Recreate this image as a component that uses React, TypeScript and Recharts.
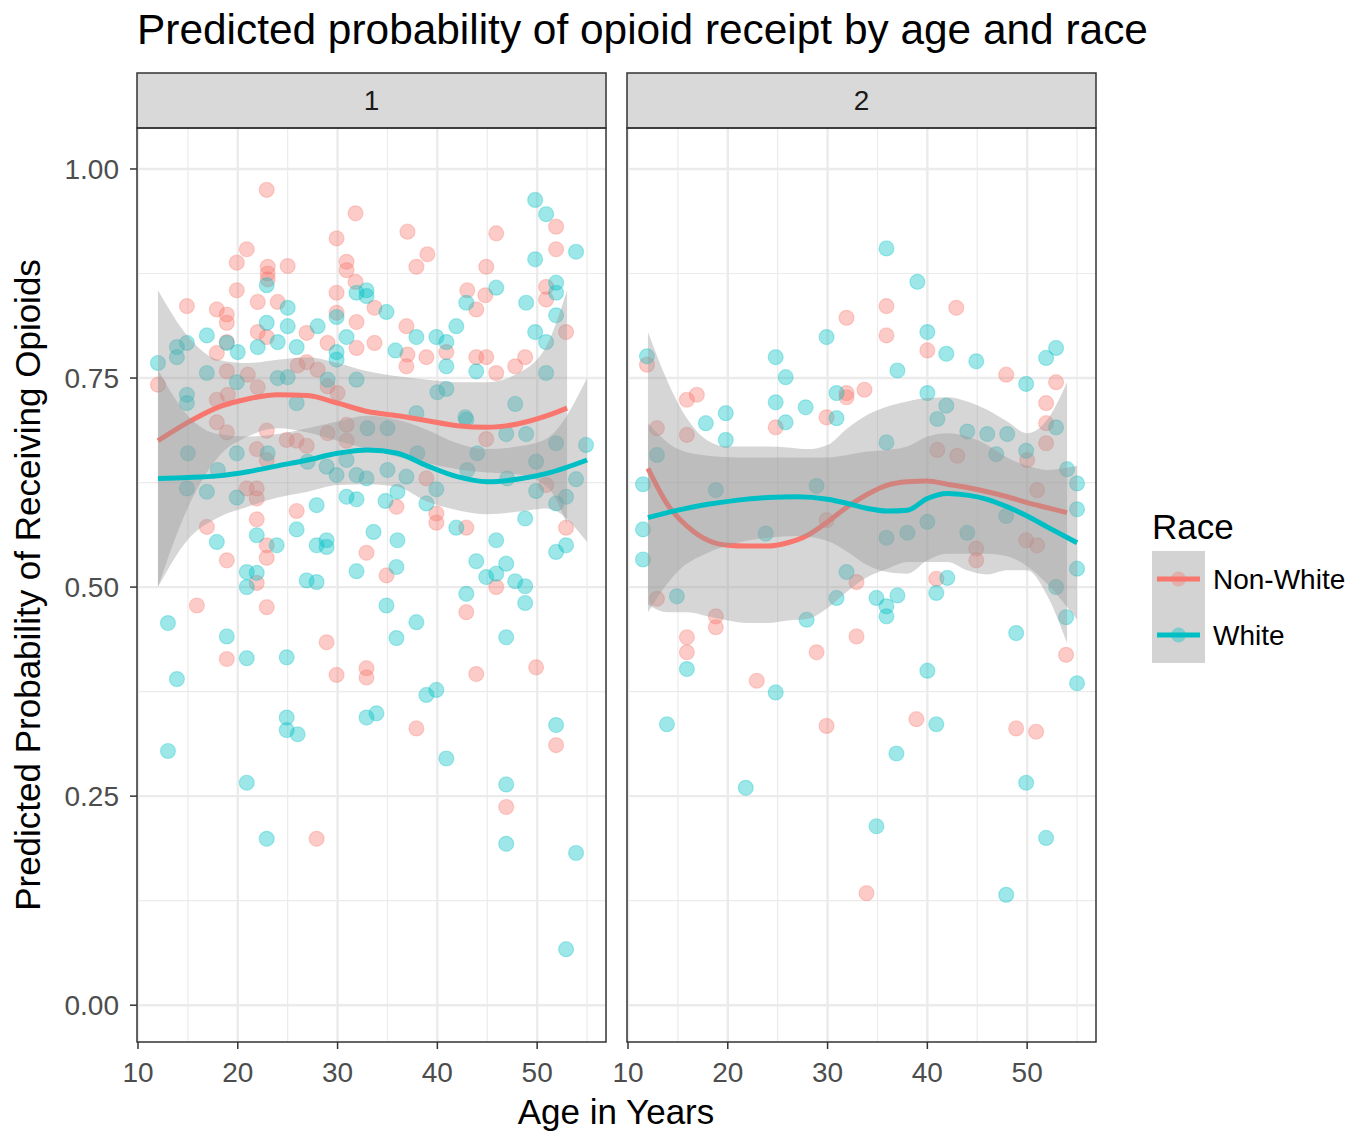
import React from "react";
import {
  ComposedChart,
  Scatter,
  Line,
  Area,
  XAxis,
  YAxis,
  CartesianGrid,
} from "recharts";

const FONT = '"Liberation Sans", Arial, Helvetica, sans-serif';
const RED = "#F8766D";
const CYAN = "#00BFC4";

const TITLE = "Predicted probability of opioid receipt by age and race";
const X_TITLE = "Age in Years";
const Y_TITLE = "Predicted Probability of Receiving Opioids";
const LEGEND_TITLE = "Race";
const GROUPS = ["Non-White", "White"];
const PANELS = ["1", "2"];

const X_TICKS = [10, 20, 30, 40, 50];
const X_MINOR = [15, 25, 35, 45, 55];
const Y_TICKS = [0, 0.25, 0.5, 0.75, 1];
const Y_MINOR = [0.125, 0.375, 0.625, 0.875];

// panel 1 points [age, probability]
const p1NonWhite: [number, number][] = [
  [22.9, 0.975], [31.8, 0.947], [29.9, 0.917], [20.9, 0.904], [19.9, 0.888], [23, 0.883],
  [23, 0.875], [23, 0.868], [25, 0.884], [30.9, 0.889], [30.9, 0.879], [31.8, 0.865],
  [19.9, 0.855], [29.9, 0.852], [14.9, 0.836], [17.9, 0.832], [18.9, 0.826], [18.9, 0.816],
  [22, 0.841], [24, 0.841], [29.9, 0.828], [31.9, 0.817], [33.7, 0.834], [22, 0.805],
  [22.9, 0.799], [26.9, 0.804], [29, 0.792], [31.9, 0.786], [18.9, 0.793], [17.9, 0.78],
  [33.7, 0.792], [18.9, 0.758], [21, 0.754], [22, 0.739], [26.9, 0.769], [28, 0.76],
  [12, 0.742], [17.9, 0.724], [19, 0.73], [29, 0.74], [30, 0.732], [26, 0.765],
  [37, 0.925], [45.9, 0.923], [51.9, 0.931], [51.9, 0.904], [39, 0.898], [37.9, 0.883],
  [44.9, 0.883], [43, 0.855], [44.8, 0.849], [43.9, 0.832], [50.9, 0.859], [50.9, 0.844],
  [36.9, 0.812], [52.9, 0.805], [37, 0.778], [36.9, 0.764], [38.9, 0.775], [40.9, 0.781],
  [43.9, 0.775], [44.9, 0.775], [45.9, 0.756], [47.8, 0.764], [48.8, 0.775],
  [17.9, 0.697], [18.9, 0.685], [22.9, 0.687], [24.9, 0.676], [25.9, 0.675], [26.9, 0.669],
  [21.9, 0.665], [22.9, 0.652], [30.9, 0.694], [30.9, 0.675], [29, 0.684], [20.9, 0.618],
  [21.9, 0.618], [21.9, 0.606], [25.9, 0.591], [21.9, 0.581], [16.9, 0.572], [22.9, 0.55],
  [22.9, 0.535], [18.9, 0.532], [21.9, 0.505], [15.9, 0.478], [22.9, 0.476], [28.9, 0.434],
  [18.9, 0.414], [32.9, 0.541], [44.9, 0.677], [38.9, 0.63], [35.9, 0.596], [39.9, 0.588],
  [39.9, 0.577], [42.9, 0.571], [50.9, 0.622], [52.9, 0.571], [34.9, 0.514], [45.9, 0.5],
  [42.9, 0.47], [29.9, 0.395], [32.9, 0.403], [32.9, 0.392], [43.9, 0.396], [49.9, 0.404],
  [37.9, 0.331], [51.9, 0.311], [46.9, 0.237], [27.9, 0.199],
];

const p1White: [number, number][] = [
  [22.9, 0.861], [25, 0.834], [22.9, 0.816], [25, 0.812], [28, 0.812], [29.9, 0.823],
  [30.9, 0.799], [16.9, 0.801], [13.9, 0.787], [14.9, 0.792], [13.9, 0.775], [12, 0.768],
  [18.9, 0.792], [20, 0.781], [22, 0.787], [24, 0.793], [25.9, 0.787], [29.9, 0.781],
  [29.9, 0.772], [32.9, 0.855], [32.9, 0.848], [31.9, 0.852], [16.9, 0.756], [19.9, 0.745],
  [14.9, 0.73], [14.9, 0.72], [24, 0.75], [25, 0.751], [29, 0.748], [31.9, 0.748], [25.9, 0.72],
  [49.8, 0.963], [50.9, 0.946], [53.9, 0.901], [49.8, 0.892], [45.9, 0.858], [42.9, 0.84],
  [48.9, 0.84], [51.9, 0.864], [51.9, 0.852], [34.9, 0.829], [41.9, 0.812], [37.9, 0.799],
  [39.9, 0.799], [40.9, 0.793], [35.8, 0.783], [49.8, 0.805], [50.9, 0.793], [51.9, 0.825],
  [40.9, 0.764], [43.9, 0.758], [50.9, 0.756], [40, 0.733], [40.9, 0.737], [47.8, 0.719],
  [37.9, 0.708], [42.8, 0.703], [14.9, 0.618], [16.9, 0.614], [19.9, 0.607], [19.9, 0.66],
  [28.9, 0.644], [29.9, 0.634], [31.9, 0.634], [32.9, 0.63], [30.9, 0.652], [30.9, 0.608],
  [31.9, 0.605], [27.9, 0.598], [25.9, 0.569], [17.9, 0.554], [21.9, 0.562], [23.9, 0.55],
  [27.9, 0.55], [28.9, 0.556], [28.9, 0.548], [20.9, 0.518], [21.9, 0.517], [20.9, 0.5],
  [26.9, 0.508], [27.9, 0.506], [31.9, 0.519], [33.6, 0.566], [13, 0.457], [18.9, 0.441],
  [20.9, 0.415], [24.9, 0.416], [54.9, 0.67], [53.9, 0.629], [52.9, 0.608], [51.9, 0.6],
  [49.9, 0.615], [49.9, 0.65], [48.8, 0.582], [34.8, 0.603], [36, 0.614], [36.9, 0.632],
  [38.9, 0.6], [39.9, 0.617], [41.9, 0.571], [36, 0.556], [45.9, 0.556], [35.9, 0.524],
  [43.9, 0.531], [46.9, 0.528], [44.9, 0.512], [45.9, 0.516], [47.8, 0.507], [48.8, 0.501],
  [51.9, 0.542], [52.9, 0.55], [42.9, 0.492], [48.8, 0.481], [34.9, 0.478], [37.9, 0.458],
  [35.9, 0.439], [46.9, 0.44], [35, 0.69], [42.9, 0.7], [48.9, 0.683], [46.9, 0.683],
  [51.9, 0.672], [15, 0.66], [18, 0.64], [23, 0.66], [27, 0.65], [35, 0.64], [38, 0.66],
  [43, 0.64], [47, 0.63], [33, 0.69], [44, 0.66], [13.9, 0.39], [38.9, 0.371], [39.9, 0.377],
  [24.9, 0.344], [24.9, 0.329], [26, 0.324], [32.9, 0.344], [33.9, 0.349], [13, 0.304],
  [40.9, 0.295], [51.9, 0.335], [20.9, 0.266], [46.9, 0.264], [22.9, 0.199], [46.9, 0.193],
  [53.9, 0.182], [52.9, 0.067],
];

// panel 2 points
const p2NonWhite: [number, number][] = [
  [31.9, 0.822], [11.9, 0.766], [15.9, 0.724], [16.9, 0.73], [31.9, 0.732], [31.9, 0.727],
  [33.7, 0.736], [24.8, 0.691], [29.9, 0.703], [15.9, 0.682], [12.9, 0.69], [35.9, 0.836],
  [42.9, 0.834], [35.9, 0.801], [40, 0.783], [47.9, 0.754], [52.9, 0.745], [51.9, 0.72],
  [51.9, 0.696], [51.9, 0.672], [41, 0.664], [43, 0.657], [50, 0.652], [12.9, 0.486],
  [18.8, 0.465], [18.8, 0.452], [15.9, 0.44], [15.9, 0.422], [22.9, 0.388], [28.9, 0.422],
  [32.9, 0.506], [32.9, 0.441], [29.9, 0.58], [40.9, 0.51], [44.9, 0.546], [44.9, 0.532],
  [49.9, 0.556], [51, 0.55], [51, 0.616], [53.9, 0.419], [29.9, 0.334], [38.9, 0.342],
  [48.9, 0.331], [50.9, 0.327], [33.9, 0.134],
];

const p2White: [number, number][] = [
  [11.9, 0.776], [29.9, 0.799], [24.8, 0.775], [25.8, 0.751], [24.8, 0.721], [27.8, 0.715],
  [30.9, 0.732], [30.9, 0.702], [25.8, 0.697], [17.8, 0.696], [19.8, 0.708], [19.8, 0.676],
  [12.9, 0.658], [35.9, 0.905], [39, 0.865], [40, 0.805], [41.9, 0.779], [44.9, 0.77],
  [37, 0.759], [51.9, 0.774], [52.9, 0.786], [49.9, 0.743], [40, 0.732], [41.9, 0.717],
  [41, 0.701], [52.9, 0.691], [35.9, 0.673], [44, 0.686], [46, 0.683], [48, 0.683],
  [46.9, 0.659], [49.9, 0.663], [54, 0.641], [11.5, 0.623], [11.5, 0.569], [11.5, 0.533],
  [18.8, 0.616], [28.9, 0.621], [23.8, 0.564], [14.9, 0.489], [31.9, 0.518], [30.9, 0.487],
  [27.9, 0.461], [15.9, 0.402], [24.8, 0.374], [13.9, 0.336], [55, 0.624], [55, 0.593],
  [55, 0.522], [55, 0.385], [52.9, 0.5], [53.9, 0.464], [42, 0.511], [40.9, 0.493],
  [34.9, 0.487], [37, 0.49], [35.9, 0.477], [35.9, 0.465], [48.9, 0.445], [40, 0.4],
  [35.9, 0.559], [38, 0.565], [40, 0.578], [44, 0.565], [47.9, 0.585], [21.8, 0.26],
  [34.9, 0.214], [40.9, 0.336], [36.9, 0.301], [49.9, 0.266], [51.9, 0.2], [47.9, 0.132],
];

// smoothed fits with confidence bands
const p1RedAge = [12, 15, 18, 21, 24, 27, 30, 33, 36, 39, 42, 45, 48, 51, 53];
const p1RedFit = [0.675, 0.697, 0.715, 0.725, 0.73, 0.729, 0.72, 0.71, 0.705, 0.699, 0.693, 0.691, 0.695, 0.705, 0.714];
const p1RedHi = [0.855, 0.8, 0.772, 0.768, 0.772, 0.775, 0.768, 0.758, 0.752, 0.748, 0.745, 0.745, 0.755, 0.79, 0.855];
const p1RedLo = [0.5, 0.595, 0.655, 0.68, 0.69, 0.685, 0.675, 0.665, 0.656, 0.648, 0.641, 0.637, 0.635, 0.62, 0.575];

const p1CyanAge = [12, 15, 18, 21, 24, 27, 30, 33, 36, 39, 42, 45, 48, 51, 55];
const p1CyanFit = [0.63, 0.631, 0.633, 0.638, 0.645, 0.652, 0.66, 0.664, 0.66, 0.645, 0.632, 0.626, 0.629, 0.636, 0.652];
const p1CyanHi = [0.76, 0.705, 0.683, 0.68, 0.683, 0.69, 0.698, 0.705, 0.7, 0.688, 0.672, 0.665, 0.668, 0.678, 0.75];
const p1CyanLo = [0.5, 0.557, 0.583, 0.596, 0.607, 0.614, 0.622, 0.623, 0.62, 0.602, 0.592, 0.587, 0.59, 0.594, 0.554];

const p2RedAge = [12, 14, 16, 18, 20, 22, 24, 26, 28, 30, 32, 34, 36, 38, 40, 42, 44, 46, 48, 50, 52, 54];
const p2RedFit = [0.642, 0.598, 0.572, 0.556, 0.55, 0.549, 0.549, 0.553, 0.562, 0.578, 0.596, 0.611, 0.622, 0.626, 0.627, 0.623, 0.619, 0.614, 0.608, 0.601, 0.595, 0.589];
const p2RedHi = [0.805, 0.745, 0.7, 0.675, 0.668, 0.668, 0.668, 0.667, 0.665, 0.67, 0.69, 0.706, 0.716, 0.722, 0.726, 0.727, 0.722, 0.712, 0.698, 0.684, 0.7, 0.745];
const p2RedLo = [0.479, 0.47, 0.47, 0.465, 0.46, 0.457, 0.457, 0.46, 0.462, 0.475, 0.495, 0.512, 0.522, 0.53, 0.53, 0.53, 0.52, 0.515, 0.52, 0.52, 0.49, 0.433];

const p2CyanAge = [12, 15, 18, 21, 24, 27, 30, 32, 34, 36, 38, 40, 42, 44, 46, 48, 50, 52, 55];
const p2CyanFit = [0.583, 0.592, 0.599, 0.604, 0.607, 0.608, 0.605, 0.6, 0.594, 0.591, 0.592, 0.606, 0.612, 0.61, 0.605, 0.596, 0.585, 0.572, 0.553];
const p2CyanHi = [0.696, 0.665, 0.657, 0.655, 0.655, 0.655, 0.655, 0.658, 0.662, 0.664, 0.668, 0.68, 0.684, 0.68, 0.67, 0.655, 0.645, 0.64, 0.645];
const p2CyanLo = [0.47, 0.519, 0.541, 0.553, 0.559, 0.561, 0.555, 0.542, 0.526, 0.518, 0.516, 0.532, 0.54, 0.54, 0.54, 0.537, 0.525, 0.504, 0.461];

const toPts = (arr: [number, number][]) => arr.map(([x, y]) => ({ x, y }));
const toFit = (ages: number[], fit: number[]) => ages.map((x, i) => ({ x, y: fit[i] }));
const toBand = (ages: number[], lo: number[], hi: number[]) =>
  ages.map((x, i) => ({ x, band: [lo[i], hi[i]] }));

const X_DOMAIN: [number, number] = [9.9, 56.9];
const Y_DOMAIN: [number, number] = [-0.044, 1.049];

const tickStyle = { fontSize: 28, fill: "#4d4d4d", fontFamily: FONT };

const dot = (color: string) => (props: any) => (
  <circle
    cx={props.cx}
    cy={props.cy}
    r={7.5}
    fill={color}
    fillOpacity={0.38}
    stroke={color}
    strokeOpacity={0.3}
    strokeWidth={1.2}
  />
);

interface PanelProps {
  red: [number, number][];
  cyan: [number, number][];
  redBand: any[];
  cyanBand: any[];
  redFit: any[];
  cyanFit: any[];
  showY: boolean;
  width: number;
  left: number;
}

// ggplot layer order: points, then per group ribbon + line
const Panel: React.FC<PanelProps> = ({ red, cyan, redBand, cyanBand, redFit, cyanFit, showY, width, left }) => (
  <div style={{ position: "absolute", left, top: 0 }}>
    <ComposedChart
      width={width}
      height={1134}
      margin={{ top: 128, right: 14, bottom: 32, left: showY ? 37 : 27 }}
    >
      <CartesianGrid
        verticalValues={X_MINOR}
        horizontalValues={Y_MINOR}
        stroke="#ebebeb"
        strokeWidth={1.2}
      />
      <CartesianGrid
        verticalValues={X_TICKS}
        horizontalValues={Y_TICKS}
        stroke="#ebebeb"
        strokeWidth={2.4}
      />
      <XAxis
        type="number"
        dataKey="x"
        domain={X_DOMAIN}
        ticks={X_TICKS}
        allowDataOverflow
        height={60}
        tick={tickStyle}
        tickSize={7}
        tickMargin={13}
        tickLine={{ stroke: "#333333", strokeWidth: 1.5 }}
        axisLine={false}
      />
      <YAxis
        type="number"
        dataKey="y"
        domain={Y_DOMAIN}
        ticks={Y_TICKS}
        allowDataOverflow
        hide={!showY}
        width={100}
        tick={tickStyle}
        tickSize={7}
        tickMargin={11}
        tickFormatter={(v: number) => v.toFixed(2)}
        tickLine={{ stroke: "#333333", strokeWidth: 1.5 }}
        axisLine={false}
      />
      <Scatter data={toPts(red)} dataKey="y" shape={dot(RED)} zIndex={50} isAnimationActive={false} />
      <Scatter data={toPts(cyan)} dataKey="y" shape={dot(CYAN)} zIndex={51} isAnimationActive={false} />
      <Area
        data={redBand}
        dataKey="band"
        type="monotone"
        fill="#999999"
        fillOpacity={0.4}
        stroke="none"
        zIndex={100}
        isAnimationActive={false}
      />
      <Line
        data={redFit}
        dataKey="y"
        type="monotone"
        stroke={RED}
        strokeWidth={5}
        dot={false}
        zIndex={110}
        isAnimationActive={false}
      />
      <Area
        data={cyanBand}
        dataKey="band"
        type="monotone"
        fill="#999999"
        fillOpacity={0.4}
        stroke="none"
        zIndex={120}
        isAnimationActive={false}
      />
      <Line
        data={cyanFit}
        dataKey="y"
        type="monotone"
        stroke={CYAN}
        strokeWidth={5}
        dot={false}
        zIndex={130}
        isAnimationActive={false}
      />
    </ComposedChart>
  </div>
);

export default function App() {
  const panelLeft = [137, 627];
  const panelW = 469;
  return (
    <div
      style={{
        position: "absolute",
        left: 0,
        top: 0,
        width: 1365,
        height: 1134,
        background: "#ffffff",
        fontFamily: FONT,
        overflow: "hidden",
      }}
    >
      <Panel
        red={p1NonWhite}
        cyan={p1White}
        redBand={toBand(p1RedAge, p1RedLo, p1RedHi)}
        cyanBand={toBand(p1CyanAge, p1CyanLo, p1CyanHi)}
        redFit={toFit(p1RedAge, p1RedFit)}
        cyanFit={toFit(p1CyanAge, p1CyanFit)}
        showY
        width={620}
        left={0}
      />
      <Panel
        red={p2NonWhite}
        cyan={p2White}
        redBand={toBand(p2RedAge, p2RedLo, p2RedHi)}
        cyanBand={toBand(p2CyanAge, p2CyanLo, p2CyanHi)}
        redFit={toFit(p2RedAge, p2RedFit)}
        cyanFit={toFit(p2CyanAge, p2CyanFit)}
        showY={false}
        width={510}
        left={600}
      />
      <svg
        width={1365}
        height={1134}
        style={{ position: "absolute", left: 0, top: 0, pointerEvents: "none" }}
        fontFamily={FONT}
      >
        <text x={137} y={44} fontSize={42.4} fill="#000000">
          {TITLE}
        </text>
        {PANELS.map((label, i) => (
          <g key={label}>
            <rect x={panelLeft[i]} y={73} width={panelW} height={55} fill="#d9d9d9" stroke="#333333" strokeWidth={1.5} />
            <text x={panelLeft[i] + panelW / 2} y={110} fontSize={28} fill="#1a1a1a" textAnchor="middle">
              {label}
            </text>
            <rect x={panelLeft[i]} y={128} width={panelW} height={914} fill="none" stroke="#333333" strokeWidth={1.5} />
          </g>
        ))}
        <text x={616} y={1124} fontSize={35} fill="#000000" textAnchor="middle">
          {X_TITLE}
        </text>
        <text
          x={40}
          y={585}
          fontSize={35}
          fill="#000000"
          textAnchor="middle"
          transform="rotate(-90 40 585)"
        >
          {Y_TITLE}
        </text>
        <text x={1152} y={539} fontSize={35} fill="#000000">
          {LEGEND_TITLE}
        </text>
        {GROUPS.map((g, i) => {
          const cy = 579 + i * 56;
          const color = i === 0 ? RED : CYAN;
          return (
            <g key={g}>
              <rect x={1152} y={cy - 28} width={53} height={56} fill="#d3d3d3" />
              <circle cx={1178.5} cy={cy} r={7.5} fill={color} fillOpacity={0.38} />
              <line x1={1157} x2={1200} y1={cy} y2={cy} stroke={color} strokeWidth={5} />
              <text x={1213} y={cy + 10} fontSize={28} fill="#000000">
                {g}
              </text>
            </g>
          );
        })}
      </svg>
    </div>
  );
}
